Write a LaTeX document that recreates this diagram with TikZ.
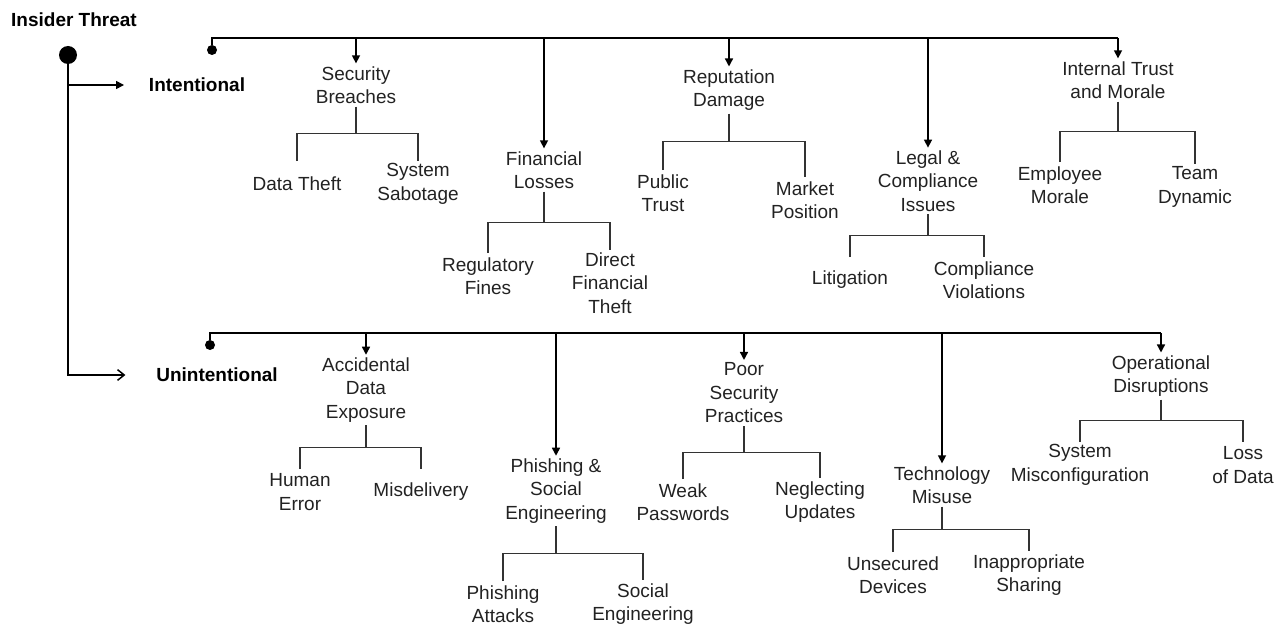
\documentclass[tikz,border=0pt]{standalone}
\usepackage{fontspec}
\setmainfont{Liberation Sans}
\usetikzlibrary{arrows.meta,calc}
\definecolor{inkgray}{HTML}{222222}
\definecolor{forkgray}{HTML}{333333}
\begin{document}
\begin{tikzpicture}[x=0.75pt,y=-0.75pt,
    every node/.style={font=\fontsize{14.25}{17.6}\selectfont, text=inkgray, inner sep=2pt},
    head/.style={font=\fontsize{14.25}{17.6}\selectfont\bfseries, text=black},
    cat/.style={align=center},
    leaf/.style={align=center, minimum height=34pt},
    dot/.style={circle, fill=black, inner sep=0pt, minimum size=7.5pt},
    bigdot/.style={circle, fill=black, inner sep=0pt, minimum size=13.5pt},
    bus/.style={line width=1.1pt},
    fork/.style={line width=0.8pt, draw=forkgray},
    tip/.style={bus, -{Triangle[length=6pt,width=6pt]}}]
    \useasboundingbox (0,0) rectangle (1286,624);
    \coordinate (top) at (0,38);
    \coordinate (bot) at (0,333);

    % Root and the two branches
    \node[head] (title) at (74,20) {Insider Threat};
    \node[bigdot] (root) at (68,55) {};
    \node[head] (in) at (197,85) {Intentional};
    \node[head] (un) at (217,375) {Unintentional};
    \draw[tip] (root |- in) -- ($(in.west)+(-22,0)$);
    \draw[bus, -{Straight Barb[length=5pt,width=8pt]}] (root) |- ($(un.west)+(-28,0)$);

    % Intentional: categories
    \node[dot] (idot) at (212,50) {};
    \node[cat] (sb) at (356,85) {Security\\Breaches};
    \node[cat] (fl) at (544,170) {Financial\\Losses};
    \node[cat] (rd) at (729,90) {Reputation\\Damage};
    \node[cat] (lc) at (928,181) {Legal \&\\Compliance\\Issues};
    \node[cat] (it) at (1118,80) {Internal Trust\\and Morale};
    \draw[bus] (idot) -- (idot |- top) -- (it.north |- top);
    \foreach \c in {sb,fl,rd,lc,it}
        \draw[tip] (\c.north |- top) -- (\c.north);

    % Intentional: leaves
    \node[leaf] (dt) at (297,184) {Data Theft};
    \node[leaf] (ss) at (418,184) {System\\Sabotage};
    \node[leaf] (rf) at (488,276) {Regulatory\\Fines};
    \node[leaf] (df) at (610,283) {Direct\\Financial\\Theft};
    \node[leaf] (pt) at (663,193) {Public\\Trust};
    \node[leaf] (mp) at (805,200) {Market\\Position};
    \node[leaf] (li) at (850,280) {Litigation};
    \node[leaf] (cv) at (984,280) {Compliance\\Violations};
    \node[leaf] (em) at (1060,185) {Employee\\Morale};
    \node[leaf] (td) at (1195,187) {Team\\Dynamic};

    % Unintentional: categories
    \node[dot] (udot) at (210,345) {};
    \node[cat] (ad) at (366,390) {Accidental\\Data\\Exposure};
    \node[cat] (ph) at (556,491) {Phishing \&\\Social\\Engineering};
    \node[cat] (ps) at (744,393) {Poor\\Security\\Practices};
    \node[cat] (tm) at (942,485) {Technology\\Misuse};
    \node[cat] (od) at (1161,376) {Operational\\Disruptions};
    \draw[bus] (udot) -- (udot |- bot) -- (od.north |- bot);
    \foreach \c in {ad,ph,ps,tm,od}
        \draw[tip] (\c.north |- bot) -- (\c.north);

    % Unintentional: leaves
    \node[leaf] (he) at (300,492) {Human\\Error};
    \node[leaf] (md) at (421,492) {Misdelivery};
    \node[leaf] (pa) at (503,604) {Phishing\\Attacks};
    \node[leaf] (se) at (643,604) {Social\\Engineering};
    \node[leaf] (wp) at (683,502) {Weak\\Passwords};
    \node[leaf] (nu) at (820,502) {Neglecting\\Updates};
    \node[leaf] (ud) at (893,575) {Unsecured\\Devices};
    \node[leaf] (ia) at (1029,575) {Inappropriate\\Sharing};
    \node[leaf] (sm) at (1080,465) {System\\Misconfiguration};
    \node[leaf] (ld) at (1243,465) {Loss\\of Data};

    % Forks from each category to its two leaves
    \foreach \p/\a/\b in {sb/dt/ss, fl/rf/df, rd/pt/mp, lc/li/cv, it/em/td,
                          ad/he/md, ph/pa/se, ps/wp/nu, tm/ud/ia, od/sm/ld} {
        \coordinate (\p-j) at ($(\p.south)!.5!(\p.south |- \a.north)$);
        \draw[fork] (\p.south) -- (\p-j);
        \draw[fork] (\a.north) |- (\p-j) -| (\b.north);
    }
\end{tikzpicture}
\end{document}
